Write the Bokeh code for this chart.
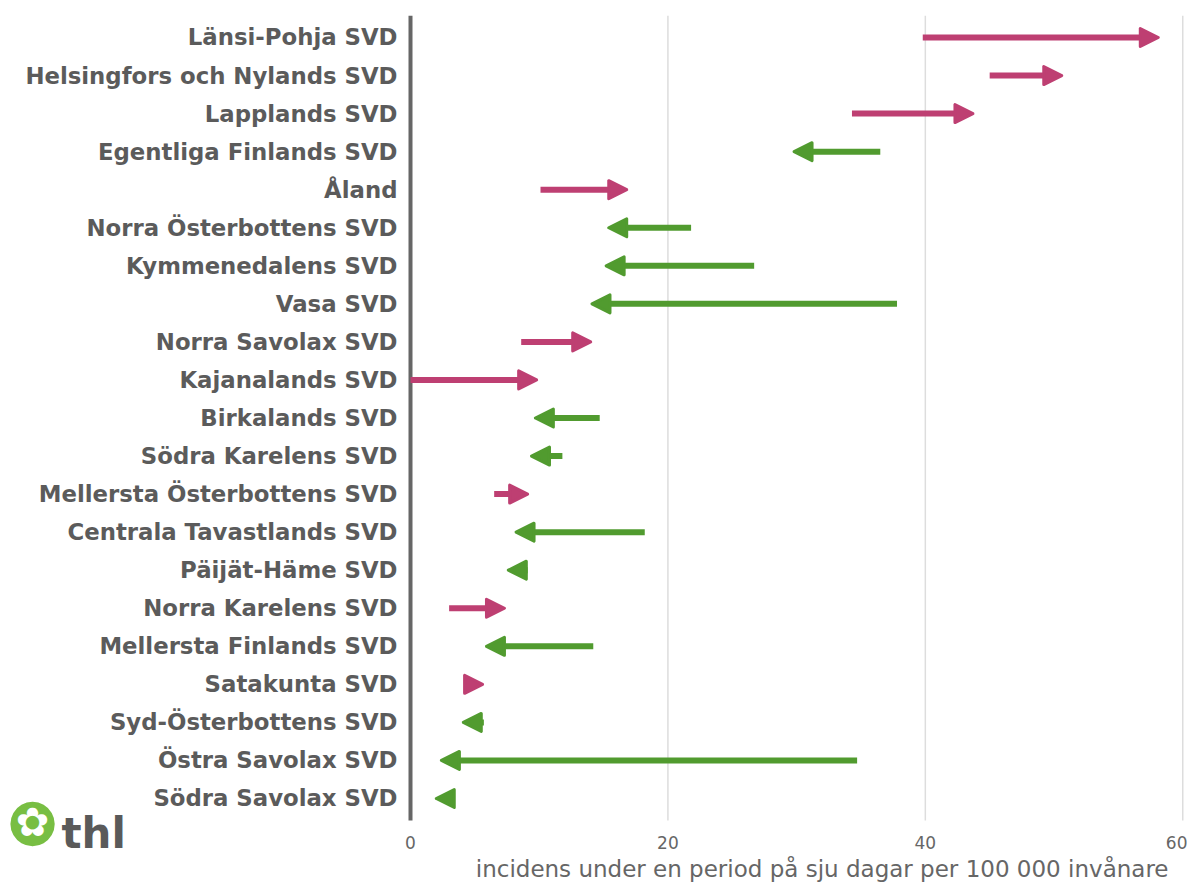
from bokeh.plotting import figure
from bokeh.models import (ColumnDataSource, Range1d, Arrow, NormalHead,
                          FixedTicker, Label)
from bokeh.embed import file_html
from bokeh.resources import INLINE

# ---- data (top to bottom) ----
regions = ["Länsi-Pohja SVD", "Helsingfors och Nylands SVD", "Lapplands SVD",
           "Egentliga Finlands SVD", "Åland", "Norra Österbottens SVD",
           "Kymmenedalens SVD", "Vasa SVD", "Norra Savolax SVD", "Kajanalands SVD",
           "Birkalands SVD", "Södra Karelens SVD", "Mellersta Österbottens SVD",
           "Centrala Tavastlands SVD", "Päijät-Häme SVD", "Norra Karelens SVD",
           "Mellersta Finlands SVD", "Satakunta SVD", "Syd-Österbottens SVD",
           "Östra Savolax SVD", "Södra Savolax SVD"]
previous = [39.8, 45.0, 34.3, 36.5, 10.1, 21.8, 26.7, 37.8, 8.6, 0.0, 14.7,
            11.8, 6.5, 18.2, 9.1, 3.0, 14.2, 4.4, 5.7, 34.7, 3.2]
current = [58.1, 50.6, 43.7, 29.8, 16.8, 15.4, 15.2, 14.1, 14.0, 9.8, 9.7,
           9.4, 9.1, 8.2, 7.6, 7.3, 5.9, 5.6, 4.1, 2.4, 2.0]
x_ticks = [0, 20, 40, 60]
x_title = "incidens under en period på sju dagar per 100 000 invånare"

UP = "#be3f72"
DOWN = "#519b2f"
TXT = "#5b5b5b"

n = len(regions)
ypos = [n - i for i in range(n)]          # row positions, top row = n
y_lo, y_hi = 0.42, n + 0.58               # extent of the category band

up = dict(x0=[], x1=[], y=[])
dn = dict(x0=[], x1=[], y=[])
for a, b, yy in zip(previous, current, ypos):
    d = up if b >= a else dn
    d["x0"].append(a)
    d["x1"].append(b)
    d["y"].append(yy)

# frame covers the whole canvas; axes are drawn at fixed locations inside it
p = figure(width=1187, height=882, output_backend="svg", toolbar_location=None,
           x_range=Range1d(-31.857, 60.37), y_range=Range1d(-1.208, n + 0.578),
           min_border_left=0, min_border_right=0, min_border_top=15,
           min_border_bottom=0)
p.outline_line_color = None
p.background_fill_color = "white"
p.xgrid.visible = False
p.ygrid.visible = False

# vertical grid lines at the x ticks (within the category band)
p.segment(x0=x_ticks[1:], x1=x_ticks[1:], y0=[y_lo] * 3, y1=[y_hi] * 3,
          line_color="#dddddd", line_width=1.5)

for d, col in ((up, UP), (dn, DOWN)):
    src = ColumnDataSource(d)
    head = NormalHead(size=18, fill_color=col, line_color=col, line_width=3,
                      line_join="round")
    arr = Arrow(end=head, x_start="x0", y_start="y", x_end="x1", y_end="y",
                source=src, line_color=col, line_width=6, line_cap="butt")
    p.add_layout(arr)

# x axis
xa = p.xaxis[0]
xa.fixed_location = y_lo
xa.ticker = FixedTicker(ticks=x_ticks)
xa.axis_line_color = None
xa.major_tick_line_color = None
xa.minor_tick_line_color = None
xa.major_label_text_font = "DejaVu Sans"
xa.major_label_text_font_size = "17px"
xa.major_label_text_color = "#666666"
xa.major_label_standoff = 9

# y axis (region names)
ya = p.yaxis[0]
ya.fixed_location = 0
ya.bounds = (y_lo, y_hi)
ya.ticker = FixedTicker(ticks=ypos)
ya.major_label_overrides = {v: r for v, r in zip(ypos, regions)}
ya.axis_line_color = "#666666"
ya.axis_line_width = 4
ya.major_tick_line_color = None
ya.minor_tick_line_color = None
ya.major_label_text_font = "DejaVu Sans"
ya.major_label_text_font_style = "bold"
ya.major_label_text_font_size = "22.8px"
ya.major_label_text_color = TXT
ya.major_label_standoff = 7

# x axis title
p.add_layout(Label(x=1168, y=14, x_units="screen", y_units="screen", text=x_title,
                   text_align="right", text_baseline="middle",
                   text_font="DejaVu Sans", text_font_size="23px",
                   text_color="#666666"))

# logo (decoration)
p.add_layout(Label(x=32, y=64, x_units="screen", y_units="screen", text="●",
                   text_align="center", text_baseline="middle",
                   text_font="DejaVu Sans", text_font_size="58px",
                   text_color="#78be43"))
p.add_layout(Label(x=32, y=61, x_units="screen", y_units="screen", text="✿",
                   text_align="center", text_baseline="middle",
                   text_font="DejaVu Sans", text_font_size="40px",
                   text_color="white"))
p.add_layout(Label(x=61, y=49, x_units="screen", y_units="screen", text="thl",
                   text_align="left", text_baseline="alphabetic",
                   text_font="DejaVu Sans", text_font_style="bold",
                   text_font_size="42px", text_color="#5a5a5a"))

open("out.html", "w").write(file_html(p, INLINE))
